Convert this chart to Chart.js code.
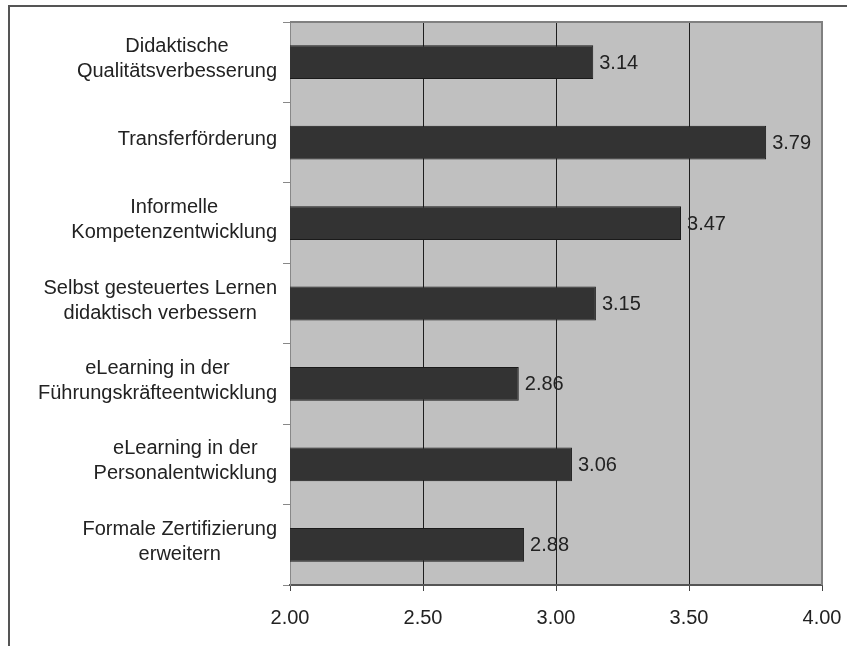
<!DOCTYPE html>
<html>
<head>
<meta charset="utf-8">
<script src="https://cdn.jsdelivr.net/npm/chart.js@4"></script>
<style>
  html, body { margin: 0; padding: 0; background: #ffffff; }
  canvas { display: block; }
</style>
</head>
<body>
<canvas id="chart" width="847" height="646"></canvas>
<script>
// Categories (one array entry per text line), mean scores and axis ticks
const categories = [
  ["Didaktische", "Qualitätsverbesserung"],
  ["Transferförderung"],
  ["Informelle", "Kompetenzentwicklung"],
  ["Selbst gesteuertes Lernen", "didaktisch verbessern"],
  ["eLearning in der", "Führungskräfteentwicklung"],
  ["eLearning in der", "Personalentwicklung"],
  ["Formale Zertifizierung", "erweitern"]
];
const scores = [3.14, 3.79, 3.47, 3.15, 2.86, 3.06, 2.88];
const xTickValues = [2.0, 2.5, 3.0, 3.5, 4.0];

const FONT = '"Liberation Sans", Arial, sans-serif';
const TEXT = '#222222';
const SIZE = 20;

// Outer frame and grey plot background
const backdrop = {
  id: 'backdrop',
  beforeDraw(chart) {
    const { ctx, chartArea: a } = chart;
    ctx.save();
    ctx.fillStyle = '#ffffff';
    ctx.fillRect(0, 0, chart.width, chart.height);
    ctx.strokeStyle = '#555555';
    ctx.lineWidth = 2;
    ctx.strokeRect(9, 6, 900, 700);
    ctx.fillStyle = '#c0c0c0';
    ctx.fillRect(a.left, a.top, a.right - a.left, a.bottom - a.top);
    ctx.restore();
  },
  beforeDatasetsDraw(chart) {
    const { ctx, chartArea: a } = chart;
    ctx.save();
    ctx.strokeStyle = '#808080';
    ctx.lineWidth = 2;
    ctx.beginPath();
    ctx.moveTo(a.left, a.top);
    ctx.lineTo(a.right, a.top);
    ctx.lineTo(a.right, a.bottom);
    ctx.stroke();
    ctx.restore();
  }
};

// Value next to the end of every bar
const valueLabels = {
  id: 'valueLabels',
  afterDatasetsDraw(chart) {
    const { ctx } = chart;
    const meta = chart.getDatasetMeta(0);
    ctx.save();
    ctx.font = SIZE + 'px ' + FONT;
    ctx.fillStyle = TEXT;
    ctx.textAlign = 'left';
    ctx.textBaseline = 'middle';
    meta.data.forEach((bar, i) => {
      const v = chart.data.datasets[0].data[i];
      ctx.fillText(v.toFixed(2), bar.x + 6, bar.y + 1);
    });
    ctx.restore();
  }
};

// Category labels: block right-aligned to the axis, lines centred in the block
const categoryLabels = {
  id: 'categoryLabels',
  afterDraw(chart) {
    const { ctx } = chart;
    const y = chart.scales.y;
    const lineH = 25;
    ctx.save();
    ctx.font = SIZE + 'px ' + FONT;
    ctx.fillStyle = TEXT;
    ctx.textAlign = 'center';
    ctx.textBaseline = 'middle';
    chart.data.labels.forEach((lines, i) => {
      const blockW = Math.max(...lines.map(l => ctx.measureText(l).width));
      const cx = y.right - 13 - blockW / 2;
      const cy = y.getPixelForValue(i);
      const top = cy - (lines.length - 1) * lineH / 2;
      lines.forEach((l, k) => ctx.fillText(l, cx, top + k * lineH - 3));
    });
    ctx.restore();
  }
};

new Chart(document.getElementById('chart'), {
  type: 'bar',
  data: {
    labels: categories,
    datasets: [{
      data: scores,
      backgroundColor: '#333333',
      borderColor: '#1a1a1a',
      borderWidth: 1,
      borderSkipped: false,
      barPercentage: 0.42,
      categoryPercentage: 1
    }]
  },
  options: {
    indexAxis: 'y',
    responsive: false,
    animation: false,
    devicePixelRatio: 1,
    layout: { padding: { top: 22, right: 25, left: 0, bottom: 0 } },
    plugins: {
      legend: { display: false },
      tooltip: { enabled: false },
      title: { display: false }
    },
    scales: {
      x: {
        type: 'linear',
        min: 2,
        max: 4,
        afterBuildTicks(scale) {
          scale.ticks = xTickValues.map(v => ({ value: v }));
        },
        afterFit(scale) {
          scale.height = 61;
          scale.paddingLeft = 0;
          scale.paddingRight = 0;
        },
        ticks: {
          callback: v => Number(v).toFixed(2),
          font: { size: SIZE, family: FONT },
          color: TEXT,
          padding: 15,
          maxRotation: 0
        },
        grid: {
          color: ctx => (ctx.tick && (ctx.tick.value === 2 || ctx.tick.value === 4)) ? 'rgba(0,0,0,0)' : '#1e1e1e',
          tickColor: '#444444',
          tickLength: 6,
          lineWidth: 1
        },
        border: { color: '#555555', width: 2 }
      },
      y: {
        type: 'category',
        afterFit(scale) { scale.width = 290; },
        ticks: { display: false },
        grid: {
          drawOnChartArea: false,
          drawTicks: true,
          tickLength: 7,
          color: '#888888',
          offset: true
        },
        border: { color: '#888888', width: 1 }
      }
    }
  },
  plugins: [backdrop, valueLabels, categoryLabels]
});
</script>
</body>
</html>
